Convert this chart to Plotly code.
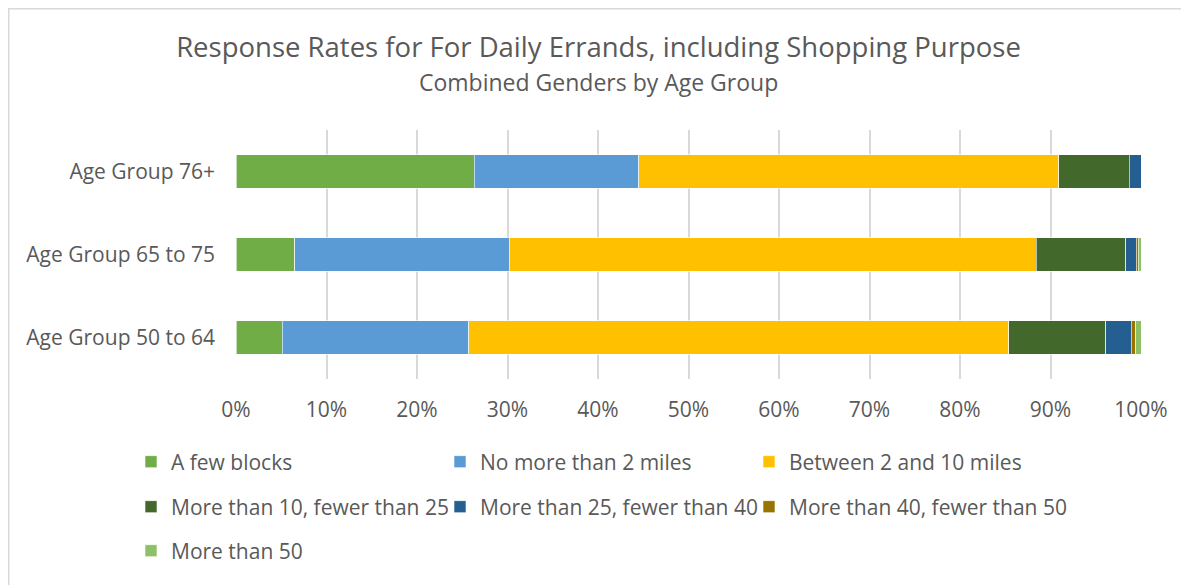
import plotly.graph_objects as go

categories = ["Age Group 50 to 64", "Age Group 65 to 75", "Age Group 76+"]
series_names = [
    "A few blocks",
    "No more than 2 miles",
    "Between 2 and 10 miles",
    "More than 10, fewer than 25",
    "More than 25, fewer than 40",
    "More than 40, fewer than 50",
    "More than 50",
]
a_few_blocks = [5.1, 6.5, 26.3]
no_more_2 = [20.6, 23.7, 18.2]
between_2_10 = [59.7, 58.2, 46.4]
more_10_25 = [10.7, 9.9, 7.8]
more_25_40 = [2.8, 1.2, 1.3]
more_40_50 = [0.5, 0.2, 0.0]
more_50 = [0.6, 0.3, 0.0]
values = [a_few_blocks, no_more_2, between_2_10, more_10_25, more_25_40, more_40_50, more_50]
colors = ["#70AD47", "#5B9BD5", "#FFC000", "#43682B", "#255E91", "#997300", "#8CC168"]
tick_vals = [0, 10, 20, 30, 40, 50, 60, 70, 80, 90, 100]
tick_text = [f"{v}%" for v in tick_vals]

FONT = "Open Sans"
TXT = "#595959"
OFF = 8  # page body margin

W, H = 1189 - OFF, 585 - OFF
ml, mt = 236 - OFF, 130 - OFF
mr = W - (1141 - OFF)
mb = H - (379 - OFF)
pw, ph = W - ml - mr, H - mt - mb

def px_x(sx):
    return (sx - OFF - ml) / pw

def px_y(sy):
    return (H - mb - (sy - OFF)) / ph

# legend grid: 3 columns x 3 rows (screen pixel anchors)
col_x = [131, 440, 749]
row_y = [462, 507, 551]

fig = go.Figure()
legend_layout = {}
for i, (name, vals, col) in enumerate(zip(series_names, values, colors)):
    lg = "legend" if i == 0 else f"legend{i + 1}"
    fig.add_trace(go.Bar(
        y=categories, x=vals, name=name, orientation="h",
        marker=dict(color=col, line=dict(width=0.6, color="white")),
        width=0.4, legend=lg,
    ))
    legend_layout[lg] = dict(
        orientation="h", font=dict(family=FONT, size=21, color=TXT),
        xanchor="left", yanchor="middle", bgcolor="rgba(0,0,0,0)",
        itemwidth=30, x=px_x(col_x[i % 3]), y=px_y(row_y[i // 3]),
    )

fig.update_layout(
    width=W, height=H,
    margin=dict(l=ml, r=mr, t=mt, b=mb),
    barmode="stack",
    paper_bgcolor="white", plot_bgcolor="white",
    font=dict(family=FONT, color=TXT),
    title=dict(
        text="Response Rates for For Daily Errands, including Shopping Purpose",
        x=0.5, xanchor="center", xref="container",
        y=1 - (47 - OFF) / H, yanchor="middle", yref="container",
        font=dict(family=FONT, size=27.5, color=TXT),
    ),
    xaxis=dict(
        range=[0, 100], tickvals=tick_vals, ticktext=tick_text,
        showgrid=True, gridcolor="#D9D9D9", gridwidth=1.5, zeroline=False,
        showline=False, tickfont=dict(family=FONT, size=21, color=TXT),
        ticklabelstandoff=16, fixedrange=True,
    ),
    yaxis=dict(
        categoryorder="array", categoryarray=categories,
        tickfont=dict(family=FONT, size=21, color=TXT), showgrid=False,
        ticklabelstandoff=20, showline=False,
    ),
    showlegend=True,
    **legend_layout,
)

fig.add_annotation(
    text="Combined Genders by Age Group", xref="paper", yref="paper",
    x=(W / 2 - ml) / pw, y=px_y(82), xanchor="center", yanchor="middle",
    showarrow=False, font=dict(family=FONT, size=23, color=TXT),
)

# chart-area border: only top and left edges fall inside the picture
fig.add_shape(type="rect", xref="paper", yref="paper",
              x0=(0.75 - ml) / pw, x1=(W + 20 - ml) / pw,
              y0=(H - mb - (H + 20)) / ph, y1=(H - mb - 0.75) / ph,
              line=dict(color="#D9D9D9", width=1.5), fillcolor="rgba(0,0,0,0)", layer="below")

fig.write_html("out.html")
